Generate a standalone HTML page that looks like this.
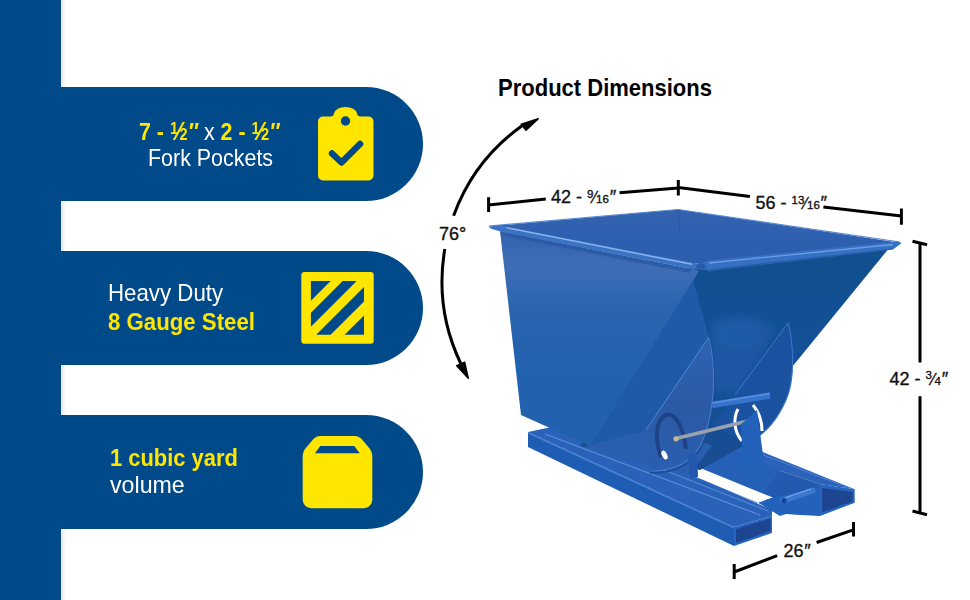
<!DOCTYPE html>
<html><head><meta charset="utf-8">
<style>
html,body{margin:0;padding:0;background:#fff;}
body{width:970px;height:600px;position:relative;overflow:hidden;font-family:"Liberation Sans",sans-serif;}
.bar{position:absolute;left:0;top:0;width:61px;height:600px;background:#004a8a;}
.pill{position:absolute;left:0;width:423px;height:114px;background:#004a8a;border-radius:0 57px 57px 0;}
.t{position:absolute;white-space:nowrap;line-height:1;transform-origin:0 0;}
.y{color:#ffe600;font-weight:bold;}
.w{color:#fff;}
svg{position:absolute;left:0;top:0;}
</style></head>
<body>
<div style="position:absolute;left:61px;top:0;width:5px;height:600px;background:linear-gradient(to right,#e6e6e6,#ffffff)"></div>
<div class="bar"></div>
<div class="pill" style="top:87px"></div>
<div class="pill" style="top:251px"></div>
<div class="pill" style="top:415px"></div>

<div class="t" id="l1" style="left:139px;top:119px;font-size:24px;transform:scaleX(0.892);"><span class="y">7 - <span style="font-size:.68em;position:relative;top:-.36em">1</span><span style="font-size:1.05em;margin:0 -.05em">⁄</span><span style="font-size:.68em">2</span><i style="font-style:italic">″</i> </span><span class="w">x </span><span class="y">2 - <span style="font-size:.68em;position:relative;top:-.36em">1</span><span style="font-size:1.05em;margin:0 -.05em">⁄</span><span style="font-size:.68em">2</span><i style="font-style:italic">″</i></span></div>
<div class="t w" id="l2" style="left:147.5px;top:146px;font-size:24px;transform:scaleX(0.893);">Fork Pockets</div>
<div class="t w" id="l3" style="left:107.5px;top:281px;font-size:24px;transform:scaleX(0.928);">Heavy Duty</div>
<div class="t y" id="l4" style="left:108px;top:310px;font-size:24px;transform:scaleX(0.926);">8 Gauge Steel</div>
<div class="t y" id="l5" style="left:110.4px;top:446px;font-size:24px;transform:scaleX(0.913);">1 cubic yard</div>
<div class="t w" id="l6" style="left:110px;top:473px;font-size:24px;transform:scaleX(0.966);">volume</div>

<svg width="970" height="600" viewBox="0 0 970 600">
  <!-- clipboard icon -->
  <g fill="#ffe600">
    <path d="M323 116.5 H330.5 Q333.5 116.5 334 113.5 Q336 107 345.5 107 Q355 107 357 113.5 Q357.5 116.5 360.5 116.5 H368.5 A5 5 0 0 1 373.5 121.5 V175.5 A5 5 0 0 1 368.5 180.5 H323 A5 5 0 0 1 318 175.5 V121.5 A5 5 0 0 1 323 116.5 Z"/>
  </g>
  <circle cx="345.5" cy="121" r="4.7" fill="#004a8a"/>
  <polyline points="332,153.5 341.5,162.5 360,144" fill="none" stroke="#004a8a" stroke-width="6.5" stroke-linecap="round" stroke-linejoin="round"/>

  <!-- stripes icon -->
  <rect x="301.3" y="272" width="72.4" height="71.7" rx="3" fill="#ffe600"/>
  <clipPath id="sc"><rect x="310.7" y="281" width="53.3" height="53.7"/></clipPath>
  <g clip-path="url(#sc)" fill="#004a8a">
    <path d="M310.7 281.0 L330.7 281.0 L310.7 301.0 Z"/>
    <path d="M342.7 281.0 L356.7 281.0 L310.7 327.0 L310.7 313.0 Z"/>
    <path d="M370.0 281.0 L384.4 281.0 L310.7 354.7 L310.7 340.3 Z"/>
    <path d="M398.4 281.0 L510.7 281.0 L510.7 481.0 L310.7 481.0 L310.7 368.7 Z"/>
  </g>

  <!-- box icon -->
  <path d="M320 436 H355 Q359 436 362 439.5 L370 449 Q372.3 452 372.3 456 V499.8 A8.5 8.5 0 0 1 363.8 508.3 H311.2 A8.5 8.5 0 0 1 302.7 499.8 V456 Q302.7 452 305 449 L313 439.5 Q316 436 320 436 Z" fill="#ffe600"/>
  <path d="M320.3 446 H354.3 L359.7 453.3 H315 Z" fill="#004a8a"/>
</svg>

<svg id="hop" width="970" height="600" viewBox="0 0 970 600">
  <defs>
    <filter id="blur3" x="-20%" y="-20%" width="140%" height="140%"><feGaussianBlur stdDeviation="3"/></filter>
    <linearGradient id="gSide" gradientUnits="userSpaceOnUse" x1="0" y1="232" x2="0" y2="446">
      <stop offset="0" stop-color="#3464b0"/>
      <stop offset="0.17" stop-color="#3f6db5"/>
      <stop offset="0.33" stop-color="#2c65b0"/>
      <stop offset="0.6" stop-color="#2362ae"/>
      <stop offset="1" stop-color="#2060ac"/>
    </linearGradient>
    <linearGradient id="gSlope" gradientUnits="userSpaceOnUse" x1="0" y1="266" x2="0" y2="470">
      <stop offset="0" stop-color="#11508f"/>
      <stop offset="0.5" stop-color="#125198"/>
      <stop offset="1" stop-color="#1a4c90"/>
    </linearGradient>
    <linearGradient id="gInt" gradientUnits="userSpaceOnUse" x1="0" y1="210" x2="0" y2="268">
      <stop offset="0" stop-color="#3262b0"/>
      <stop offset="1" stop-color="#2c5dae"/>
    </linearGradient>
    <linearGradient id="gRock" gradientUnits="userSpaceOnUse" x1="0" y1="338" x2="0" y2="470">
      <stop offset="0" stop-color="#2e62b2"/>
      <stop offset="0.5" stop-color="#2c5aa4"/>
      <stop offset="1" stop-color="#2a5eb0"/>
    </linearGradient>
  </defs>
  <!-- right rail -->
  <polygon points="700,444 738,442 854.7,489.3 820,484" fill="#2c62b9"/>
  <polygon points="700,444 820,484 820,516 773,502.7 700,472" fill="#2359ae"/>
  <polygon points="820,484 854.7,489.3 854.7,502.7 820,516" fill="#2565c0"/>
  <polygon points="822,488 852.5,492 852.5,501.5 822,512.5" fill="#1e4590"/>
  <line x1="740" y1="446" x2="852" y2="489" stroke="#4a84d8" stroke-width="1"/>
  <!-- cross plate under hopper -->
  <polygon points="585,440 700,436 780,470 757,503 700,478 600,452" fill="#2560b8"/>
  <!-- left rail -->
  <polygon points="528,432 575,422 772,510 772,516 734,527" fill="#2a62ba"/>
  <polygon points="528,432 734,527 734,546 528,447" fill="#1f5cb4"/>
  <polygon points="734,527 772,516 772,533 734,546" fill="#2666c2"/>
  <polygon points="736,529 770.5,518.5 770.5,531 736,543" fill="#1e4590"/>
  <line x1="545" y1="434" x2="760" y2="515" stroke="#5a8ed8" stroke-width="1.2"/>
  <line x1="562" y1="430" x2="768" y2="511" stroke="#5a8ed8" stroke-width="1"/>
  <line x1="528" y1="433" x2="734" y2="528" stroke="#4e8ae0" stroke-width="1"/>
  <!-- gap -->
  <polygon points="695.3,466 773,497.6 758,502.7 696,477" fill="#ffffff"/>
  <!-- front hitch between rails -->
  <polygon points="758,502.7 773,497.6 800,492 820,488 820,516 796,514.7 786,514 780,516" fill="#2262bd"/>
  <line x1="783" y1="500.5" x2="812.7" y2="490.7" stroke="#3a78d2" stroke-width="6" stroke-linecap="round"/>
  <line x1="785" y1="497.8" x2="811" y2="489" stroke="#7aa6e6" stroke-width="1.2"/>
  <circle cx="784" cy="500.7" r="2.6" fill="#17449a"/>

  <!-- interior -->
  <polygon points="489,226.5 500.6,225.3 678,209.4 901.6,243 708,265 692,263" fill="url(#gInt)"/>
  <line x1="489" y1="226" x2="678" y2="209.5" stroke="#5a88cc" stroke-width="1.2"/>
  <line x1="678" y1="209.5" x2="900" y2="242" stroke="#5a88cc" stroke-width="1.2"/>
  <line x1="678.5" y1="210" x2="679.5" y2="232" stroke="#2a57a2" stroke-width="1"/>
  <!-- sloped front face -->
  <polygon points="690,266 890,247 792,367 786,396 771,423 747,444 700,470 580,446" fill="url(#gSlope)"/>
  <!-- lighter region left of left rocker -->
  <polygon points="690,268 708.7,337.3 646,430 590,446" fill="#1f5aa8"/>
  <polygon points="586,446 646.7,430 700,440 712,446 696,466 696,477 600,454" fill="#2a5fb0"/>
  <!-- side panel -->
  <polygon points="500,231 692,269 699,271 590,446 521,415" fill="url(#gSide)"/>

  <!-- drum between rockers -->
  <g filter="url(#blur3)">
  <path d="M712,322 C730,312 760,314 775,330 L740,390 C725,395 714,392 712,385 Z" fill="#1c56a4" opacity="0.9"/>
  <ellipse cx="738" cy="335" rx="22" ry="14" fill="#2460ae" opacity="0.5"/>
  </g>
  <!-- right rocker -->
  <path d="M788,323 C794,345 795,380 786,400 C778,418 768,432 747,444 L713,425 Z" fill="#1a52a0"/>
  <path d="M788,323 C794,345 795,380 786,400 C778,418 768,432 747,444" fill="none" stroke="#3a72c4" stroke-width="1.2"/>
  <line x1="788" y1="323" x2="735" y2="395" stroke="#3f78c8" stroke-width="1"/>
  <!-- left rocker -->
  <path d="M708.7,337.3 C716,365 716,410 702,442 C692,462 676,470 653,471 L646,430 Z" fill="url(#gRock)"/>
  <path d="M709.5,340 C717,367 717,412 703,444 C693,464 677,473 650,473" fill="none" stroke="#1c4c94" stroke-width="1.6"/>
  <path d="M708.7,337.3 C716,365 716,410 702,442 C692,462 676,470 653,471" fill="none" stroke="#4a80cc" stroke-width="1"/>
  <line x1="708.7" y1="337.3" x2="646" y2="430" stroke="#5088d6" stroke-width="1"/>

  <polygon points="688,455 697,452 698,477 690,478" fill="#2158ad"/>
  <!-- rims -->
  <polygon points="500.6,231.5 692,269 690,273 500.6,235" fill="#2a58a4" opacity="0.8"/>
  <polygon points="488.2,226.9 500.6,225.3 692,262.8 700,264 708.7,270 692,269 500.6,231.5 492,229" fill="#3a72c4"/>
  <line x1="506" y1="227.6" x2="692" y2="264.3" stroke="#8fb4e8" stroke-width="1.4"/>
  <polygon points="700,264 708.7,260.5 896,241.5 901.6,243 893,249.5 708.7,271" fill="#3470c4"/>
  <line x1="709" y1="270" x2="892" y2="249" stroke="#2a5aa6" stroke-width="1.2"/>
  <line x1="709" y1="263" x2="893" y2="244.5" stroke="#6f9de0" stroke-width="1.3"/>
  <ellipse cx="701" cy="266.5" rx="5" ry="3" fill="#2b5aa6"/>
  <!-- pivot details -->
  <path d="M661,457 C655,440 655,421 665,415.5 C675,411 683,426 686,449" fill="none" stroke="#1f4286" stroke-width="3.8"/>
  <ellipse cx="664.5" cy="455" rx="2.6" ry="4.8" transform="rotate(-25 664.5 455)" fill="#ffffff"/>
  <path d="M738,409 C733,418 734,432 742,441" fill="none" stroke="#ffffff" stroke-width="3"/>
  <path d="M753,405 C759,412 762,422 762,431" fill="none" stroke="#ffffff" stroke-width="3"/>
  <!-- rods -->
  <line x1="712" y1="405" x2="770" y2="395.5" stroke="#3673cc" stroke-width="6.5"/>
  <line x1="712" y1="403" x2="770" y2="393.5" stroke="#5a90e0" stroke-width="1.5"/>
  <line x1="675" y1="438.7" x2="757" y2="418.7" stroke="#9aa3ad" stroke-width="3.5"/>
  <circle cx="676" cy="438.8" r="2.6" fill="#c8b890"/>
  <!-- bracket -->
  <polygon points="741,424 757,410 765.3,472 743,472" fill="#2262bb"/>
</svg>

<svg id="dims" width="970" height="600" viewBox="0 0 970 600" style="font-family:'Liberation Sans',sans-serif">
  <text id="title" x="498" y="95.8" font-size="23.5" font-weight="bold" fill="#000" textLength="214" lengthAdjust="spacingAndGlyphs">Product Dimensions</text>
  <g stroke="#000" stroke-width="3" fill="none" stroke-linecap="butt">
    <path d="M453.6,215.7 A191,191 0 0 1 522.4,125.5"/>
    <path d="M444.8,248.9 A191,191 0 0 0 460.9,363.8"/>
    <path d="M488.6,197.2 V212 M488.6,205 L545.8,199 M619.5,192.7 L678.3,188 M678.3,180 V195.5 M678.3,187.5 L749.9,196.5 M823.4,206.9 L901.4,215.9 M901.4,208.5 V224.8"/>
    <path d="M912.5,241.2 L927.1,244.8 M920,243 V362.5 M920,396.2 V513 M912.5,511 L927,514.8"/>
    <path d="M734.2,564 V579 M734.2,572 L777.2,555.6 M816.6,542.5 L853.3,529.8 M853.5,522 V536.5"/>
  </g>
  <polygon points="538.3,118.7 521.3,124.3 526,130.3" fill="#000" stroke="#000" stroke-width="1.5" stroke-linejoin="round"/>
  <polygon points="468.3,378.3 456.7,365.7 464.7,362.3" fill="#000" stroke="#000" stroke-width="1.5" stroke-linejoin="round"/>
  <g font-size="18" fill="#111" stroke="#111" stroke-width="0.35">
    <text id="d76" x="439" y="240">76°</text>
    <text id="d1" x="551" y="203">42 - <tspan font-size="11.5" dy="-5.5">9</tspan><tspan font-size="16" dy="5.5">⁄</tspan><tspan font-size="11.5">16</tspan><tspan font-style="italic">″</tspan></text>
    <text id="d2" x="755.5" y="209.2">56 - <tspan font-size="11.5" dy="-5.5">13</tspan><tspan font-size="16" dy="5.5">⁄</tspan><tspan font-size="11.5">16</tspan><tspan font-style="italic">″</tspan></text>
    <text id="d3" x="889.5" y="384.6">42 - <tspan font-size="11.5" dy="-5.5">3</tspan><tspan font-size="16" dy="5.5">⁄</tspan><tspan font-size="11.5">4</tspan><tspan font-style="italic">″</tspan></text>
    <text id="d4" x="783.5" y="556.7">26<tspan font-style="italic">″</tspan></text>
  </g>
</svg>
</body></html>
